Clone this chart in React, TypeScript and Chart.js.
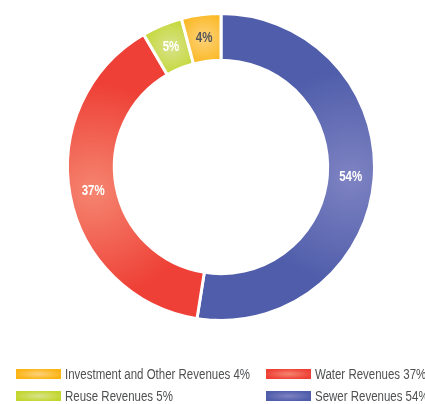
import React, { useEffect, useRef } from "react";
import { Chart, registerables } from "chart.js";

Chart.register(...registerables);

const categories = ["Sewer Revenues", "Water Revenues", "Reuse Revenues", "Investment and Other Revenues"];
const shares = [52.5, 39.1, 4.25, 4.15];
const percentLabels = ["54%", "37%", "5%", "4%"];
const baseColors = ["#4F5DAA", "#EE4036", "#C3D62F", "#FBB414"];
const lightColors = ["#7E83C2", "#F58570", "#D8E38C", "#FDD27C"];
const labelColors = ["#FFFFFF", "#FFFFFF", "#FFFFFF", "#555659"];
const legendOrder = [3, 1, 2, 0];

const FONT = '"Liberation Sans", Arial, sans-serif';
const NARROW = 0.82;
const CUTOUT = 0.695;
const BORDER = 3;

function sliceFill(ctx: any) {
  const i = ctx.dataIndex;
  const chart = ctx.chart;
  const area = chart.chartArea;
  if (!area || i === undefined) return baseColors[i ?? 0];
  const cx = (area.left + area.right) / 2;
  const cy = (area.top + area.bottom) / 2;
  const outer = (Math.min(area.right - area.left, area.bottom - area.top) - BORDER) / 2;
  const inner = outer * CUTOUT;
  const total = shares.reduce((a, b) => a + b, 0);
  let before = 0;
  for (let k = 0; k < i; k++) before += shares[k];
  const start = -Math.PI / 2 + (before / total) * Math.PI * 2;
  const span = (shares[i] / total) * Math.PI * 2;
  const mid = start + span / 2;
  const rMid = (inner + outer) / 2;
  const gx = cx + Math.cos(mid) * rMid;
  const gy = cy + Math.sin(mid) * rMid;
  const rad = Math.min(outer * 0.7, Math.max(span * rMid * 0.9, 28));
  const g = chart.ctx.createRadialGradient(gx, gy, 0, gx, gy, rad);
  g.addColorStop(0, lightColors[i]);
  g.addColorStop(1, baseColors[i]);
  return g;
}

const sliceLabels = {
  id: "sliceLabels",
  afterDatasetsDraw(chart: any) {
    const meta = chart.getDatasetMeta(0);
    const c = chart.ctx;
    meta.data.forEach((arc: any, i: number) => {
      const p = arc.tooltipPosition();
      c.save();
      c.translate(p.x, p.y);
      c.scale(NARROW, 1);
      c.font = `bold 14px ${FONT}`;
      c.textAlign = "center";
      c.textBaseline = "middle";
      c.fillStyle = labelColors[i];
      c.fillText(percentLabels[i], 0, 0);
      c.restore();
    });
  },
};

export default function App() {
  const ref = useRef<HTMLCanvasElement>(null);
  useEffect(() => {
    if (!ref.current) return;
    const chart = new Chart(ref.current, {
      type: "doughnut",
      data: {
        labels: categories,
        datasets: [
          {
            data: shares,
            backgroundColor: sliceFill as any,
            borderColor: "#FFFFFF",
            borderWidth: BORDER,
          },
        ],
      },
      options: {
        responsive: false,
        animation: false,
        events: [],
        cutout: `${CUTOUT * 100}%`,
        layout: { padding: { left: 66, top: 12, right: 49, bottom: 82 } },
        plugins: { legend: { display: false }, tooltip: { enabled: false } },
      },
      plugins: [sliceLabels],
    });
    return () => chart.destroy();
  }, []);

  const rows = [legendOrder.slice(0, 2), legendOrder.slice(2, 4)];
  return (
    <div style={{ position: "absolute", left: 0, top: 0, width: 425, height: 404, background: "#fff", overflow: "hidden" }}>
      <canvas ref={ref} width={425} height={404} style={{ position: "absolute", left: 0, top: 0, width: 425, height: 404 }} />
      {rows.map((row, r) =>
        row.map((idx, c) => (
          <div
            key={`${r}-${c}`}
            style={{
              position: "absolute",
              left: c === 0 ? 16 : 266,
              top: r === 0 ? 366 : 388,
              height: 16,
              display: "flex",
              alignItems: "center",
              whiteSpace: "nowrap",
            }}
          >
            <span
              style={{
                display: "inline-block",
                width: 45,
                height: 10,
                background: `radial-gradient(ellipse at center, ${lightColors[idx]} 0%, ${baseColors[idx]} 75%)`,
              }}
            />
            <span
              style={{
                marginLeft: 4,
                font: `14px ${FONT}`,
                color: "#4F5052",
                lineHeight: "16px",
                display: "inline-block",
                transform: `scaleX(${NARROW})`,
                transformOrigin: "left center",
              }}
            >
              {categories[idx]} {percentLabels[idx]}
            </span>
          </div>
        ))
      )}
    </div>
  );
}
